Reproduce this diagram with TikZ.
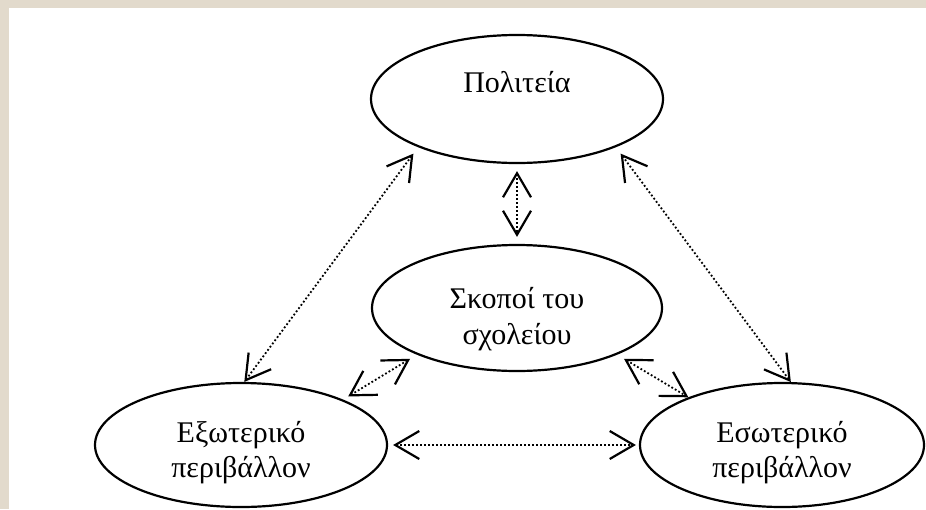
\documentclass[tikz,border=0pt]{standalone}
\usepackage{fontspec}
\setmainfont{Liberation Serif}
\usetikzlibrary{shapes.geometric,arrows.meta}
\begin{document}
\begin{tikzpicture}[x=0.5pt,y=-0.5pt,
  bubble/.style={ellipse,draw=black,line width=1.1pt,inner sep=0pt,align=center,font=\fontsize{15}{18}\selectfont},
  barb/.tip={Straight Barb[length=12pt,width=14pt,line width=1.1pt]},
  link/.style={line width=0.9pt,dash pattern=on 0.9pt off 1.1pt,barb-barb}]
\definecolor{paper}{RGB}{226,218,204}
\useasboundingbox (0,0) rectangle (926,509);
\fill[paper] (0,0) rectangle (926,509);
\fill[white] (9,8) rectangle (926,509);
\node[bubble,minimum width=146pt,minimum height=64pt] (pol) at (517,99) {\raisebox{17pt}{Πολιτεία}};
\node[bubble,minimum width=145pt,minimum height=63pt] (skop) at (517,308) {\rule{0pt}{22pt}Σκοποί του\\σχολείου};
\node[bubble,minimum width=146pt,minimum height=62pt,font=\fontsize{15}{17.5}\selectfont] (ext) at (241,445) {\rule{0pt}{18pt}Εξωτερικό\\περιβάλλον};
\node[bubble,minimum width=142pt,minimum height=62pt,font=\fontsize{15}{17.5}\selectfont] (int) at (782,445) {\rule{0pt}{18pt}Εσωτερικό\\περιβάλλον};
\draw[link,shorten <=4pt] (pol.206) -- (ext.87);
\draw[link,shorten <=4pt] (pol.334) -- (int.82);
\draw[link,shorten <=3.5pt,shorten >=3.5pt] (pol.south) -- (skop.north);
\draw[link,shorten <=4pt,shorten >=3pt] (skop.205) -- (ext.24);
\draw[link,shorten <=4pt] (skop.335) -- (int.153);
\draw[link,shorten <=2.5pt,shorten >=1.5pt] (ext.east) -- (int.west);
\end{tikzpicture}
\end{document}
